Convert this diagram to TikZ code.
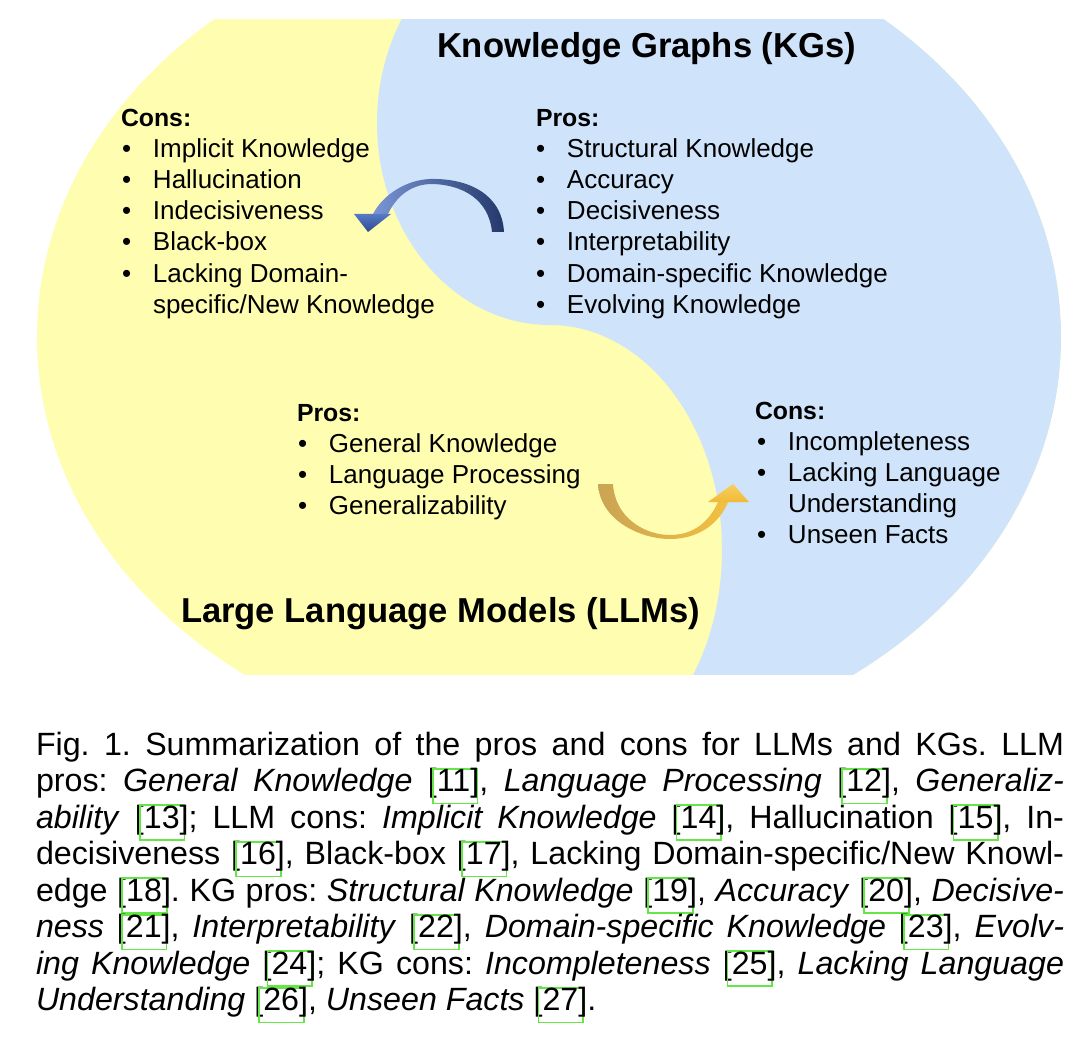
\documentclass[tikz,border=0pt]{standalone}
\usepackage{fontspec}
\setmainfont{Liberation Sans}
\definecolor{llmyellow}{RGB}{255,253,176}
\definecolor{kgblue}{RGB}{207,227,250}
\definecolor{citegreen}{RGB}{100,230,70}
\definecolor{bluelight}{RGB}{122,150,214}
\definecolor{bluedark}{RGB}{36,56,106}
\definecolor{bluehead1}{RGB}{88,122,196}
\definecolor{bluehead2}{RGB}{44,74,146}
\definecolor{goldlight}{RGB}{202,164,84}
\definecolor{golddark}{RGB}{164,124,34}
\definecolor{goldbright}{RGB}{242,192,64}
\definecolor{goldhead1}{RGB}{249,208,92}
\definecolor{goldhead2}{RGB}{240,186,56}
\newcommand\bul{\makebox[31pt][l]{•}}
\newcommand\cbx[1]{[\rlap{\kern-5pt\raisebox{-11pt}[0pt][0pt]{\textcolor{citegreen}{\fboxsep0pt\fboxrule1.7pt\fbox{\rule{0pt}{33pt}\rule{43pt}{0pt}}}}}#1]}
\begin{document}
\begin{tikzpicture}[x=1pt,y=-1pt,
  every node/.style={inner sep=0pt,outer sep=0pt,anchor=base west},
  itemtext/.style={font=\fontsize{26}{30}\selectfont},
  headtext/.style={font=\fontsize{24.8}{30}\selectfont\bfseries},
  titletext/.style={font=\fontsize{34.6}{40}\selectfont\bfseries},
  captext/.style={font=\fontsize{32.2}{36.5}\selectfont}]
\useasboundingbox (0,0) rectangle (1088,1046);
% background regions
\begin{scope}
  \clip (0,20) rectangle (1088,674);
  \clip (549,337) ellipse [x radius=512, y radius=420];
  \fill[llmyellow] (0,0) rectangle (1088,1046);
  \fill[kgblue] (550,-79)
    arc[start angle=-90, end angle=-270, x radius=173, y radius=202]
    arc[start angle=-90, end angle=90, x radius=172, y radius=225]
    -- (1100,775) -- (1100,-79) -- cycle;
\end{scope}
% titles
\node[titletext] (kgtitle) at (437,58) {Knowledge Graphs (KGs)};
\node[titletext] (llmtitle) at (181,622) {Large Language Models (LLMs)};
% LLM cons (upper left)
\node[headtext] (lc0) at (121,127) {Cons:};
\node[itemtext] (lc1) at (122,158) {\bul Implicit Knowledge};
\node[itemtext] (lc2) at (122,189) {\bul Hallucination};
\node[itemtext] (lc3) at (122,220) {\bul Indecisiveness};
\node[itemtext] (lc4) at (122,251) {\bul Black-box};
\node[itemtext] (lc5) at (122,282) {\bul Lacking Domain-};
\node[itemtext] (lc6) at (153,313) {specific/New Knowledge};
% KG pros (upper right)
\node[headtext] (kp0) at (536,127) {Pros:};
\node[itemtext] (kp1) at (536,158) {\bul Structural Knowledge};
\node[itemtext] (kp2) at (536,189) {\bul Accuracy};
\node[itemtext] (kp3) at (536,220) {\bul Decisiveness};
\node[itemtext] (kp4) at (536,251) {\bul Interpretability};
\node[itemtext] (kp5) at (536,282) {\bul Domain-specific Knowledge};
\node[itemtext] (kp6) at (536,313) {\bul Evolving Knowledge};
% LLM pros (lower left)
\node[headtext] (lp0) at (297,421) {Pros:};
\node[itemtext] (lp1) at (298,452) {\bul General Knowledge};
\node[itemtext] (lp2) at (298,483) {\bul Language Processing};
\node[itemtext] (lp3) at (298,514) {\bul Generalizability};
% KG cons (lower right)
\node[headtext] (kc0) at (755,419) {Cons:};
\node[itemtext] (kc1) at (757,450) {\bul Incompleteness};
\node[itemtext] (kc2) at (757,481) {\bul Lacking Language};
\node[itemtext] (kc3) at (788,512) {Understanding};
\node[itemtext] (kc4) at (757,543) {\bul Unseen Facts};
% blue curved arrow (KG -> LLM)
\shade[left color=bluelight, right color=bluedark]
  (504,232) .. controls (502,194) and (468,178) .. (430,179)
  .. controls (405,180) and (382,196) .. (373,214)
  -- (388,214) .. controls (396,197) and (410,185) .. (430,184)
  .. controls (463,184) and (489,200) .. (492,232) -- cycle;
\shade[top color=bluehead1, bottom color=bluehead2]
  (354,214) -- (391,214) -- (368,232) -- cycle;
% gold curved arrow (LLM -> KG)
\shade[left color=goldlight, middle color=golddark, right color=goldbright]
  (598,484) .. controls (600,520) and (640,539) .. (670,539)
  .. controls (700,539) and (720,522) .. (728,502)
  -- (718,502) .. controls (710,520) and (695,535) .. (670,535)
  .. controls (645,535) and (615,518) .. (613,484) -- cycle;
\shade[top color=goldhead1, bottom color=goldhead2]
  (708,502) -- (749,502) -- (733,484) -- cycle;
% caption
\node[captext] (caption) at (36,755) {\parbox[t]{1028pt}{\fontsize{32.2}{36.5}\selectfont\frenchspacing\hyphenpenalty10000\exhyphenpenalty10000\tolerance10000\noindent
Fig. 1. Summarization of the pros and cons for LLMs and KGs. LLM\linebreak
pros: \textit{General Knowledge} \cbx{11}, \textit{Language Processing} \cbx{12}, \textit{Generaliz-}\linebreak
\textit{ability} \cbx{13}; LLM cons: \textit{Implicit Knowledge} \cbx{14}, Hallucination \cbx{15}, In-\linebreak
decisiveness \cbx{16}, Black-box \cbx{17}, Lacking Domain-specific/New Knowl-\linebreak
edge \cbx{18}. KG pros: \textit{Structural Knowledge} \cbx{19}, \textit{Accuracy} \cbx{20}, \textit{Decisive-}\linebreak
\textit{ness} \cbx{21}, \textit{Interpretability} \cbx{22}, \textit{Domain-specific Knowledge} \cbx{23}, \textit{Evolv-}\linebreak
\textit{ing Knowledge} \cbx{24}; KG cons: \textit{Incompleteness} \cbx{25}, \textit{Lacking Language}\linebreak
\textit{Understanding} \cbx{26}, \textit{Unseen Facts} \cbx{27}.}};
\end{tikzpicture}
\end{document}
